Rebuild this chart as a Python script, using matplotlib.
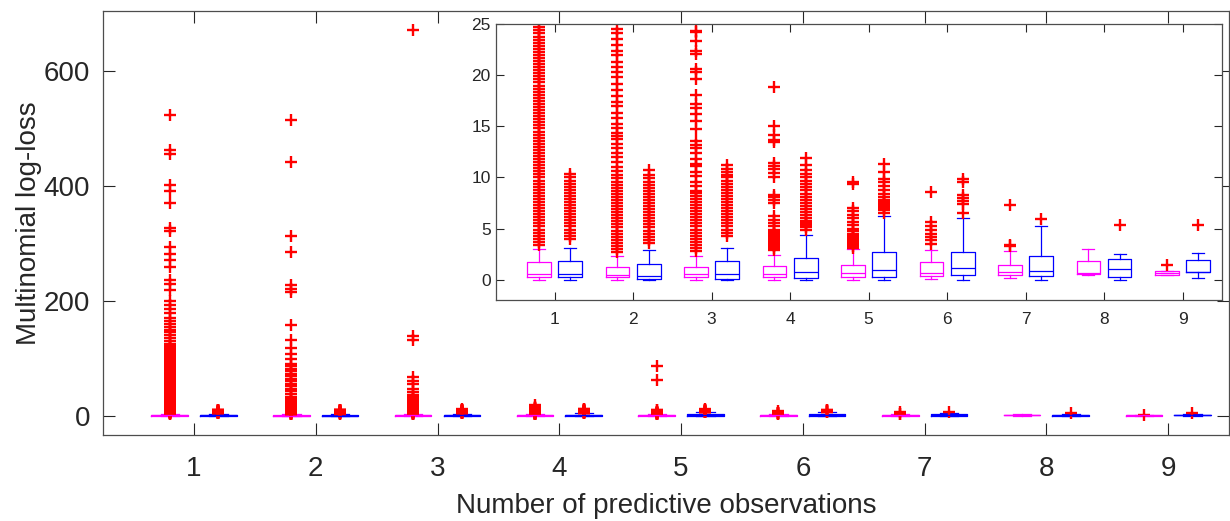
import numpy as np
import matplotlib.pyplot as plt

plt.rcParams['font.family'] = ['Liberation Sans', 'DejaVu Sans']

# number of predictive observations
groups = [1, 2, 3, 4, 5, 6, 7, 8, 9]

# magenta model: box statistics per group
mag_q1 = [0.26, 0.26, 0.23, 0.23, 0.26, 0.36, 0.46, 0.55, 0.46]
mag_med = [0.55, 0.46, 0.55, 0.55, 0.62, 0.65, 0.75, 0.65, 0.62]
mag_q3 = [1.70, 1.24, 1.24, 1.30, 1.42, 1.70, 1.40, 1.80, 0.80]
mag_lo = [0.0, 0.0, 0.0, 0.0, 0.0, 0.10, 0.13, 0.42, 0.46]
mag_hi = [3.0, 2.3, 2.3, 2.45, 3.0, 2.94, 2.8, 3.0, 0.80]
mag_fliers = [
    [3.4, 3.7, 4.0, 4.3, 4.6, 4.9, 5.2, 5.5, 5.8, 6.1, 6.4, 6.7, 7.0, 7.3, 7.6,
     7.9, 8.2, 8.5, 8.8, 9.1, 9.4, 9.7, 10.0, 10.3, 10.6, 10.9, 11.2, 11.5,
     11.8, 12.1, 12.4, 12.7, 13.0, 13.3, 13.6, 13.9, 14.2, 14.5, 14.8, 15.1,
     15.4, 15.7, 16.0, 16.3, 16.6, 16.9, 17.2, 17.5, 17.8, 18.1, 18.4, 18.7,
     19.0, 19.3, 19.6, 19.9, 20.2, 20.5, 20.8, 21.1, 21.4, 21.7, 22.0, 22.3,
     22.6, 22.9, 23.2, 23.5, 23.8, 24.1, 24.4, 24.7,
     25.5, 28, 31, 34, 37, 40, 43, 46, 49, 52, 55, 58, 61, 64, 67, 70, 73, 76,
     79, 82, 85, 88, 91, 94, 97, 100, 103, 106, 109, 112, 115, 118, 121, 125,
     130, 135, 140, 145, 150, 155, 160, 165, 170, 178, 185, 192, 200, 219, 230,
     236, 259, 271, 282, 294, 322, 326, 370, 390, 401, 455, 463, 523],
    [2.7, 3.0, 3.3, 3.6, 3.9, 4.2, 4.5, 4.8, 5.1, 5.4, 5.7, 6.0, 6.3, 6.6, 6.9,
     7.2, 7.5, 7.8, 8.1, 8.4, 8.7, 9.0, 9.3, 9.6, 9.9, 10.2, 10.6, 11.0, 11.5,
     12.0, 12.4, 12.9, 13.3, 13.8, 14.1, 14.4, 14.8, 15.2, 15.8, 16.3, 17.0,
     17.4, 18.0, 18.6, 19.2, 19.8, 20.3, 20.8, 21.3, 22.0, 22.4, 23.0, 23.6,
     24.1, 24.5,
     27, 30, 33, 38, 43, 47, 52, 56, 60, 64, 69, 73, 78, 82, 86, 90, 99, 108,
     118, 131, 158, 216, 221, 227, 284, 312, 442, 515],
    [2.8, 3.1, 3.4, 3.7, 4.0, 4.3, 4.6, 4.9, 5.2, 5.5, 5.8, 6.1, 6.4, 6.7, 7.0,
     7.3, 7.6, 7.9, 8.2, 8.5, 8.7, 9.2, 9.6, 10.1, 10.5, 11.1, 11.3, 11.8, 12.4,
     12.9, 13.2, 13.6, 14.7, 15.5, 16.2, 16.8, 17.2, 18.1, 19.6, 20.3, 20.6,
     22.1, 22.4, 23.4, 24.2, 24.3,
     27, 30, 33, 36, 42, 47, 56, 61, 67, 131, 138, 671],
    [2.9, 3.1, 3.3, 3.5, 3.7, 3.9, 4.1, 4.3, 4.5, 4.7, 4.9, 5.2, 5.5, 5.8, 6.2,
     7.5, 7.8, 8.1, 8.3, 10.0, 10.4, 10.8, 11.1, 11.4, 13.5, 13.7, 14.2, 15.0,
     18.9],
    [3.1, 3.3, 3.5, 3.7, 3.9, 4.1, 4.3, 4.5, 4.8, 5.0, 5.3, 5.6, 6.0, 6.3, 6.7,
     7.0, 9.4, 9.6, 63, 87],
    [3.5, 3.9, 4.2, 4.5, 4.9, 5.2, 5.6, 8.6],
    [3.3, 3.4, 7.3],
    [],
    [1.4],
]

# blue model: box statistics per group
blue_q1 = [0.26, 0.10, 0.10, 0.16, 0.26, 0.42, 0.36, 0.23, 0.72]
blue_med = [0.56, 0.36, 0.55, 0.72, 0.95, 1.18, 0.85, 1.08, 0.75]
blue_q3 = [1.80, 1.53, 1.80, 2.10, 2.68, 2.71, 2.30, 2.00, 1.96]
blue_lo = [0.0, 0.0, 0.0, 0.0, 0.0, 0.0, 0.0, 0.0, 0.16]
blue_hi = [3.1, 2.9, 3.1, 4.4, 6.27, 6.0, 5.2, 2.55, 2.6]
blue_fliers = [
    [4.0, 4.3, 4.6, 4.9, 5.2, 5.5, 5.8, 6.1, 6.4, 6.7, 7.0, 7.3, 7.6, 7.9, 8.2,
     8.5, 8.8, 9.1, 9.4, 9.7, 10.0, 10.3],
    [3.6, 3.9, 4.2, 4.5, 4.8, 5.1, 5.4, 5.7, 6.0, 6.3, 6.6, 6.9, 7.2, 7.5, 7.8,
     8.1, 8.4, 8.7, 9.0, 9.3, 9.6, 9.9, 10.2, 10.7],
    [4.3, 4.6, 4.9, 5.2, 5.5, 5.8, 6.1, 6.4, 6.7, 7.0, 7.3, 7.6, 7.9, 8.2, 8.5,
     8.8, 9.1, 9.4, 9.7, 10.0, 10.2, 10.5, 10.8, 11.2],
    [4.9, 5.1, 5.3, 5.5, 5.7, 6.0, 6.3, 6.6, 6.9, 7.2, 7.5, 7.8, 8.1, 8.4, 8.8,
     9.1, 9.4, 9.7, 10.0, 10.3, 10.7, 11.2, 11.9],
    [6.5, 6.8, 7.0, 7.2, 7.4, 7.6, 7.8, 8.1, 8.4, 8.8, 9.2, 9.6, 9.8, 10.5, 11.3],
    [6.5, 7.4, 7.7, 8.0, 8.3, 9.6, 9.8],
    [5.9],
    [5.3],
    [5.3],
]

text_color = '#262626'
offset = 0.2


def make_stats(q1, med, q3, lo, hi, fliers):
    stats = []
    for i in range(len(q1)):
        stats.append({
            'q1': q1[i], 'med': med[i], 'q3': q3[i],
            'whislo': lo[i], 'whishi': hi[i],
            'fliers': np.array(fliers[i], dtype=float),
        })
    return stats


def draw_boxes(ax, stats, positions, color):
    line = dict(color=color, linewidth=0.9)
    ax.bxp(
        stats,
        positions=positions,
        widths=0.3,
        capwidths=0.15,
        boxprops=line,
        whiskerprops=line,
        capprops=line,
        medianprops=line,
        flierprops=dict(marker='+', markersize=8.5, markeredgecolor='#ff0000',
                        markeredgewidth=1.7, linestyle='none'),
        manage_ticks=False,
    )


def style_axes(ax, labelsize, ticklen):
    ax.tick_params(direction='in', top=True, right=True, length=ticklen,
                   width=0.8, colors=text_color, labelsize=labelsize)
    for side in ax.spines.values():
        side.set_color('#4d4d4d')
        side.set_linewidth(0.9)


mag_stats = make_stats(mag_q1, mag_med, mag_q3, mag_lo, mag_hi, mag_fliers)
blue_stats = make_stats(blue_q1, blue_med, blue_q3, blue_lo, blue_hi, blue_fliers)
mag_pos = [g - offset for g in groups]
blue_pos = [g + offset for g in groups]

fig = plt.figure(figsize=(12.3, 5.21), dpi=100)

# main axes
ax = fig.add_axes([0.0835, 0.165, 0.9157, 0.8146])
draw_boxes(ax, mag_stats, mag_pos, '#ff00ff')
draw_boxes(ax, blue_stats, blue_pos, '#0000ff')
ax.set_xlim(0.25, 9.5)
ax.set_ylim(-33.5, 704.5)
ax.set_xticks(groups)
ax.set_xticklabels([str(g) for g in groups])
ax.set_yticks([0, 200, 400, 600])
style_axes(ax, 20, 8.4)
ax.tick_params(axis='x', pad=15)
ax.tick_params(axis='y', pad=9)
ax.set_xlabel('Number of predictive observations', fontsize=20,
              color=text_color, labelpad=8)
ax.set_ylabel('Multinomial log-loss', fontsize=20, color=text_color,
              labelpad=1)

# zoomed inset
axin = fig.add_axes([0.403, 0.4242, 0.5903, 0.5292])
axin.set_facecolor('white')
draw_boxes(axin, mag_stats, mag_pos, '#ff00ff')
draw_boxes(axin, blue_stats, blue_pos, '#0000ff')
axin.set_xlim(0.25, 9.5)
axin.set_ylim(-2, 25)
axin.set_xticks(groups)
axin.set_xticklabels([str(g) for g in groups])
axin.set_yticks([0, 5, 10, 15, 20, 25])
style_axes(axin, 12.5, 5.8)
axin.tick_params(axis='x', pad=9)

fig.savefig('out.png', dpi=100)
